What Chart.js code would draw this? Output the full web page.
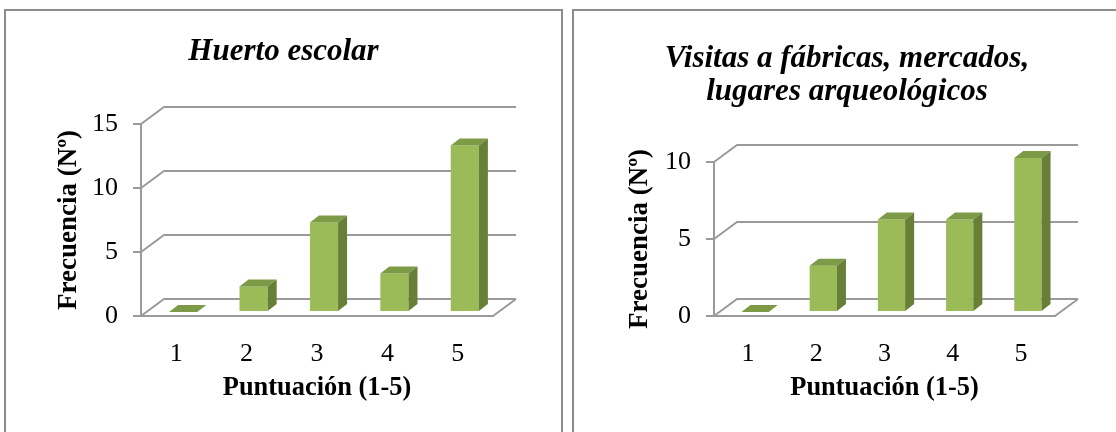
<!DOCTYPE html>
<html>
<head>
<meta charset="utf-8">
<script src="https://cdn.jsdelivr.net/npm/chart.js@4/dist/chart.umd.min.js"></script>
<style>
  html, body { margin: 0; padding: 0; background: #ffffff; }
  body { width: 1116px; height: 432px; position: relative; overflow: hidden; }
  .panel { position: absolute; border: 2px solid #8c8c8c; box-sizing: content-box; }
  canvas { position: absolute; top: 0; }
</style>
</head>
<body>
<div class="panel" style="left:4px; top:9px; width:555px; height:440px;"></div>
<div class="panel" style="left:572px; top:9px; width:560px; height:440px;"></div>
<canvas id="huerto" width="557" height="432" style="left:5px;"></canvas>
<canvas id="visitas" width="544" height="432" style="left:572px;"></canvas>
<script>
// Scores 1-5 on the x axis, number of answers on the y axis
const categories = ['1', '2', '3', '4', '5'];
const huertoValues = [0, 2, 7, 3, 13];
const visitasValues = [0, 3, 6, 6, 10];
const huertoMax = 15;
const visitasMax = 10;
const yStep = 5;

const huertoTitle = 'Huerto escolar';
const visitasTitle = ['Visitas a fábricas, mercados,', 'lugares arqueológicos'];
const xTitle = 'Puntuación (1-5)';
const yTitle = 'Frecuencia (Nº)';

const FONT = "'Liberation Serif', 'Times New Roman', serif";
const GRID = '#9a9a9a';
const FRONT = '#9bbb59';
const TOP = '#7d9a46';
const SIDE = '#677f37';

// oblique offsets of the 3D box
const WALL = { dx: 23, dy: -17 };   // back wall relative to the front plane
const SHIFT = { dx: 7, dy: -4 };    // bars sit a little behind the front plane
const BAR = { dx: 9, dy: -7 };      // depth of each bar

const box3d = {
  id: 'box3d',
  beforeDatasetsDraw(chart) {
    const { ctx, chartArea: a, scales: { y } } = chart;
    ctx.save();
    ctx.strokeStyle = GRID;
    ctx.lineWidth = 2;
    y.ticks.forEach(t => {
      const py = y.getPixelForValue(t.value);
      ctx.beginPath();
      ctx.moveTo(a.left, py);
      ctx.lineTo(a.left + WALL.dx, py + WALL.dy);
      ctx.lineTo(a.right + WALL.dx, py + WALL.dy);
      ctx.stroke();
    });
    ctx.beginPath();
    ctx.moveTo(a.right, a.bottom);
    ctx.lineTo(a.right + WALL.dx, a.bottom + WALL.dy);
    ctx.stroke();
    ctx.restore();
  },
  beforeDatasetDraw(chart) {
    chart.ctx.save();
    chart.ctx.translate(SHIFT.dx, SHIFT.dy);
  },
  afterDatasetDraw(chart, args) {
    const ctx = chart.ctx;
    args.meta.data.forEach(bar => {
      const { x, y, base, width } = bar.getProps(['x', 'y', 'base', 'width'], true);
      const l = x - width / 2, r = x + width / 2;
      ctx.fillStyle = TOP;
      ctx.beginPath();
      ctx.moveTo(l, y);
      ctx.lineTo(r, y);
      ctx.lineTo(r + BAR.dx, y + BAR.dy);
      ctx.lineTo(l + BAR.dx, y + BAR.dy);
      ctx.closePath();
      ctx.fill();
      if (base - y > 0.5) {
        ctx.fillStyle = SIDE;
        ctx.beginPath();
        ctx.moveTo(r, y);
        ctx.lineTo(r + BAR.dx, y + BAR.dy);
        ctx.lineTo(r + BAR.dx, base + BAR.dy);
        ctx.lineTo(r, base);
        ctx.closePath();
        ctx.fill();
      }
    });
    ctx.restore();
  }
};

function makeChart(id, values, max, title, g) {
  return new Chart(document.getElementById(id), {
    type: 'bar',
    data: {
      labels: categories,
      datasets: [{
        data: values,
        backgroundColor: FRONT,
        borderWidth: 0,
        categoryPercentage: 1,
        barPercentage: 0.4,
        clip: false
      }]
    },
    options: {
      responsive: false,
      devicePixelRatio: 1,
      animation: false,
      events: [],
      layout: { padding: { left: g.padLeft, top: 0, right: g.padRight, bottom: 26 } },
      plugins: {
        legend: { display: false },
        tooltip: { enabled: false },
        title: {
          display: true,
          text: title,
          color: '#000',
          font: { family: FONT, size: 31, weight: 'bold', style: 'italic', lineHeight: 1.065 },
          padding: { top: g.titleTop, bottom: g.titleBottom }
        }
      },
      scales: {
        x: {
          grid: { display: false },
          border: { display: true, color: GRID, width: 2 },
          ticks: { color: '#000', padding: 15, font: { family: FONT, size: 26 } },
          title: {
            display: true, text: xTitle, color: '#000',
            font: { family: FONT, size: 26.4, weight: 'bold', lineHeight: 1.2 },
            padding: { top: 0, bottom: 2 }
          },
          afterFit(s) { s.height = 90; }
        },
        y: {
          min: 0, max: max,
          ticks: { stepSize: yStep, color: '#000', padding: 15, font: { family: FONT, size: 26 } },
          grid: { display: true, drawOnChartArea: false, drawTicks: true, tickLength: 8, color: GRID, lineWidth: 2 },
          border: { display: true, color: GRID, width: 2 },
          title: {
            display: true, text: yTitle, color: '#000',
            font: { family: FONT, size: 27, weight: 'bold', lineHeight: 1.2 },
            padding: { top: g.yTitlePad, bottom: 0 }
          },
          afterFit(s) { s.width = g.yWidth; }
        }
      }
    },
    plugins: [box3d]
  });
}

makeChart('huerto', huertoValues, huertoMax, huertoTitle,
  { padLeft: 69, padRight: 69, titleTop: 35.5, titleBottom: 55.5, yWidth: 67, yTitlePad: -21.2 });
makeChart('visitas', visitasValues, visitasMax, visitasTitle,
  { padLeft: 67, padRight: 61, titleTop: 42.5, titleBottom: 53.5, yWidth: 75, yTitlePad: -15.2 });
</script>
</body>
</html>
